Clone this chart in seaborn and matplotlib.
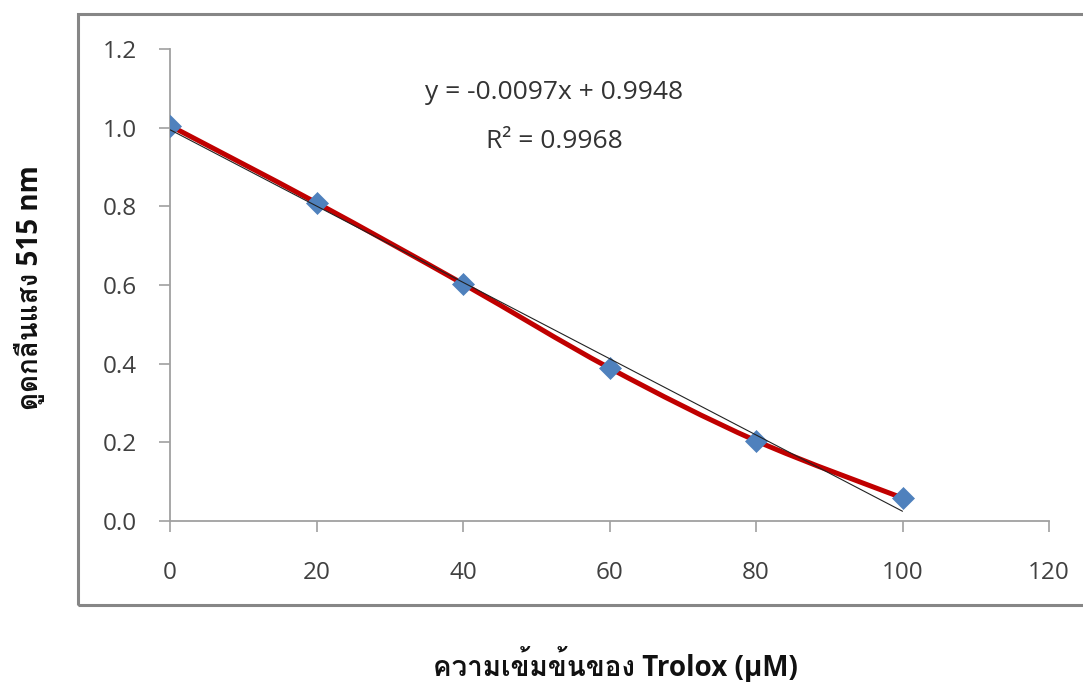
import numpy as np
import matplotlib
matplotlib.use("Agg")
import matplotlib.pyplot as plt
from matplotlib import font_manager
from matplotlib.ft2font import FT2Font
from matplotlib.path import Path
from matplotlib.patches import PathPatch, Rectangle
import seaborn as sns
import pandas as pd

# Trolox concentration (µM) and absorbance at 515 nm
concentration = [0, 20, 40, 60, 80, 100]
absorbance = [1.005, 0.809, 0.603, 0.389, 0.204, 0.0585]

# Linear trendline
slope = -0.0097
intercept = 0.9948
r_squared = 0.9968

x_ticks = [0, 20, 40, 60, 80, 100, 120]
y_ticks = [0.0, 0.2, 0.4, 0.6, 0.8, 1.0, 1.2]

x_title = "ความเข้มข้นของ Trolox (µM)"
y_title = "ดูดกลืนแสง 515 nm"


def find_font_with(char):
    """Return a family name that contains a glyph for `char`, if any."""
    code = ord(char)
    for entry in font_manager.fontManager.ttflist:
        try:
            if code in FT2Font(entry.fname).get_charmap():
                return entry.name
        except Exception:
            continue
    return None


thai_family = find_font_with("ค")
title_families = ["Open Sans"] + ([thai_family] if thai_family else []) + ["DejaVu Sans"]

sns.set_theme(style="white")
plt.rcParams["font.family"] = ["Open Sans", "DejaVu Sans"]

fig = plt.figure(figsize=(10.83, 6.82), dpi=100)
ax = fig.add_axes([170 / 1083, 1 - 521 / 682, (1049 - 170) / 1083, (521 - 49) / 682])

# outer chart frame
frame = Rectangle((78 / 1083, 1 - 605 / 682), 1.2, (605 - 14) / 682,
                  transform=fig.transFigure, fill=False,
                  edgecolor="#868686", linewidth=2.2, clip_on=False)
fig.patches.append(frame)

df = pd.DataFrame({"conc": concentration, "abs": absorbance})

# smoothed connecting line (Catmull-Rom style Bezier through the points)
pts = np.column_stack([concentration, absorbance]).astype(float)
ext = np.vstack([pts[0], pts, pts[-1]])
verts = [tuple(pts[0])]
codes = [Path.MOVETO]
for i in range(len(pts) - 1):
    p0, p1, p2, p3 = ext[i], ext[i + 1], ext[i + 2], ext[i + 3]
    c1 = p1 + (p2 - p0) / 6.0
    c2 = p2 - (p3 - p1) / 6.0
    verts += [tuple(c1), tuple(c2), tuple(p2)]
    codes += [Path.CURVE4] * 3
ax.add_patch(PathPatch(Path(verts, codes), facecolor="none",
                       edgecolor="#C00000", linewidth=3.6, zorder=2,
                       capstyle="round", joinstyle="round"))

sns.scatterplot(data=df, x="conc", y="abs", marker="D", s=125,
                color="#4F81BD", edgecolor="#4F81BD", linewidth=0.5,
                zorder=3, ax=ax, legend=False)

# linear trendline
tx = np.array([concentration[0], concentration[-1]], dtype=float)
ax.plot(tx, slope * tx + intercept, color="#222222", linewidth=0.8, zorder=4)

ax.text(0.437, 0.907, f"y = {slope:.4f}x + {intercept:.4f}",
        transform=ax.transAxes, ha="center", va="center",
        fontsize=19, color="#333333")
ax.text(0.437, 0.805, f"R² = {r_squared:.4f}",
        transform=ax.transAxes, ha="center", va="center",
        fontsize=19, color="#333333")

ax.set_xlim(0, 120)
ax.set_ylim(0, 1.2)
ax.set_xticks(x_ticks)
ax.set_yticks(y_ticks)
ax.set_xticklabels([str(v) for v in x_ticks])
ax.set_yticklabels([f"{v:.1f}" for v in y_ticks])
ax.tick_params(axis="x", direction="out", length=8, width=1.2,
               color="#A0A0A0", pad=21, labelsize=17.5, labelcolor="#404040",
               bottom=True)
ax.tick_params(axis="y", direction="out", length=8, width=1.2,
               color="#A0A0A0", pad=15.5, labelsize=17.5, labelcolor="#404040",
               left=True)
for side in ("top", "right"):
    ax.spines[side].set_visible(False)
for side in ("left", "bottom"):
    ax.spines[side].set_color("#A0A0A0")
    ax.spines[side].set_linewidth(1.3)
ax.set_xlabel("")
ax.set_ylabel("")
ax.grid(False)

fig.text(615 / 1083, 1 - 665 / 682, x_title, ha="center", va="center",
         fontsize=20, fontweight="bold", family=title_families, color="#111111")
fig.text(30 / 1083, 1 - 288 / 682, y_title, ha="center", va="center",
         rotation=90, fontsize=20, fontweight="bold", family=title_families,
         color="#111111")

fig.savefig("out.png", dpi=100)
